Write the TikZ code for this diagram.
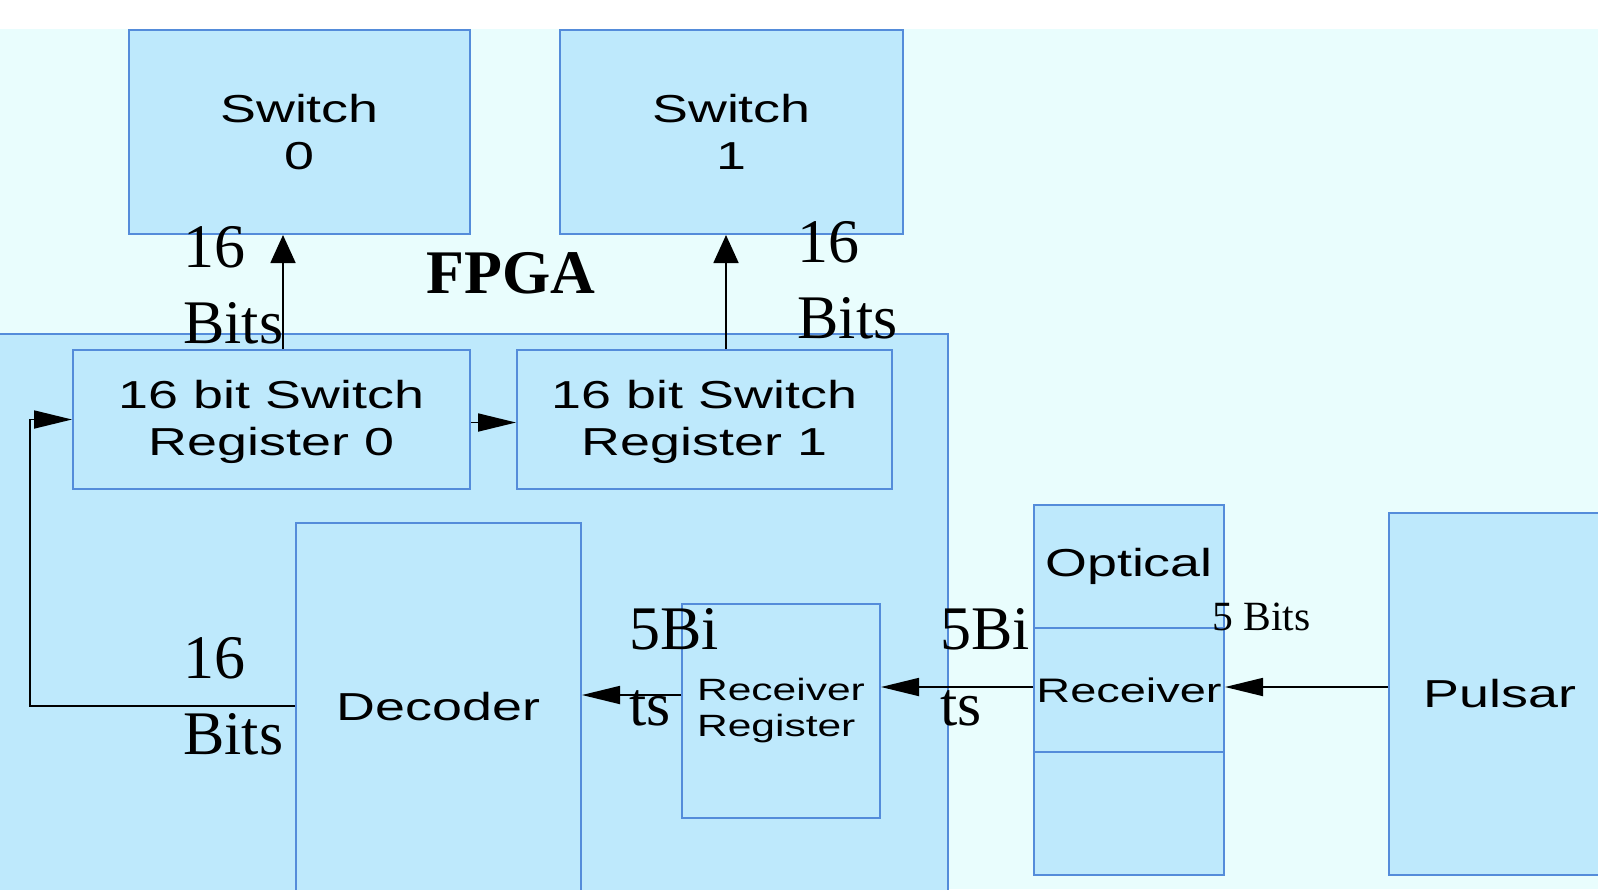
\documentclass[tikz,border=0pt]{standalone}
\usepackage{fontspec}
\setmainfont{Liberation Serif}
\newfontfamily\boxfont{Liberation Sans}[FakeStretch=1.38]
\usepackage{tikz}
\usetikzlibrary{positioning}
\usetikzlibrary{arrows.meta}
\usepackage{xcolor}
\definecolor{bgcyan}{RGB}{233,253,253}
\definecolor{boxfill}{RGB}{190,233,252}
\definecolor{boxline}{RGB}{84,140,218}

\begin{document}
\begin{tikzpicture}[
x=0.5pt, y=-0.5pt,
blk/.style={draw=boxline, fill=boxfill, line width=1pt, inner sep=0, align=center, font=\boxfont\fontsize{19.5}{23.5}\selectfont},
txt/.style={inner sep=0, align=center, font=\boxfont\fontsize{19.5}{23.5}\selectfont},
bits/.style={inner sep=0, align=left, anchor=base west, font=\fontsize{31}{38}\selectfont},
harr/.style={-{Triangle[length=19pt,width=9pt]}, line width=0.9pt},
varr/.style={-{Triangle[length=14pt,width=12.5pt]}, line width=0.9pt}
]
\useasboundingbox (0,0) rectangle (1598,889);
\fill[white] (0,0) rectangle (1598,29);
\fill[bgcyan] (0,29) rectangle (1598,889);
% boxes
\node[blk, minimum width=479pt, minimum height=283pt] (fpga) at (469,617) {};
\node[blk, minimum width=170.5pt, minimum height=102pt] (sw0) at (299.5,132) {Switch\\0};
\node[blk, minimum width=171.5pt, minimum height=102pt] (sw1) at (731.5,132) {Switch\\1};
\node[blk, minimum width=198.5pt, minimum height=69.5pt, text depth=1.5pt] (reg0) at (271.5,419.5) {16 bit Switch\\Register 0};
\node[blk, minimum width=187.5pt, minimum height=69.5pt, text depth=1.5pt] (reg1) at (704.5,419.5) {16 bit Switch\\Register 1};
\node[blk, minimum width=142.5pt, minimum height=188.5pt] (dec) at (438.5,711.5) {};
\node[txt] (declbl) at (438.5,707) {Decoder};
\node[blk, minimum width=99pt, minimum height=107pt, align=left, font=\boxfont\fontsize{15.4}{18}\selectfont] (rr) at (781,711) {Receiver\\Register};
\node[blk, minimum width=95pt, minimum height=61.5pt] (optA) at (1129,566.5) {Optical};
\node[blk, minimum width=95pt, minimum height=62pt, font=\boxfont\fontsize{17}{20}\selectfont, below=-1pt of optA] (optB) {Receiver};
\node[blk, minimum width=95pt, minimum height=61.5pt, below=-1pt of optB] (optC) {};
\node[blk, minimum width=111pt, minimum height=181pt] (pulsar) at (1500,694) {Pulsar};
% connectors
\coordinate (u0) at ([xshift=5.75pt]reg0.north);
\coordinate (u1) at ([xshift=10.75pt]reg1.north);
\draw[varr] (u0) -- (u0 |- sw0.south);
\draw[varr] (u1) -- (u1 |- sw1.south);
\draw[harr] ([yshift=-1.5pt]reg0.east) -- ([yshift=-1.5pt]reg1.west);
\draw[harr] ([yshift=2.75pt]dec.west) -| ([xshift=-21pt]reg0.west) -- (reg0.west);
\coordinate (e0) at ([yshift=8pt]rr.west);
\draw[harr] (e0) -- (e0 -| dec.east);
\coordinate (f0) at ([yshift=1.5pt]optB.west);
\draw[harr] (f0) -- (f0 -| rr.east);
\coordinate (g0) at ([yshift=3.5pt]pulsar.west);
\draw[harr] (g0) -- (g0 -| optB.east);
% labels
\node[bits] (bitsA) at (183,343) {16\\Bits};
\node[bits] (bitsB) at (797,338) {16\\Bits};
\node[bits] (bitsC) at (183,754) {16\\Bits};
\node[bits] (bitsD) at (629,725) {5Bi\\ts};
\node[bits] (bitsE) at (940,725) {5Bi\\ts};
\node[bits, font=\fontsize{20.8}{25}\selectfont] (bitsF) at (1212,630) {5 Bits};
\node[bits, font=\fontsize{31}{38}\selectfont\bfseries] (fpgalbl) at (426,293) {FPGA};
\end{tikzpicture}
\end{document}
